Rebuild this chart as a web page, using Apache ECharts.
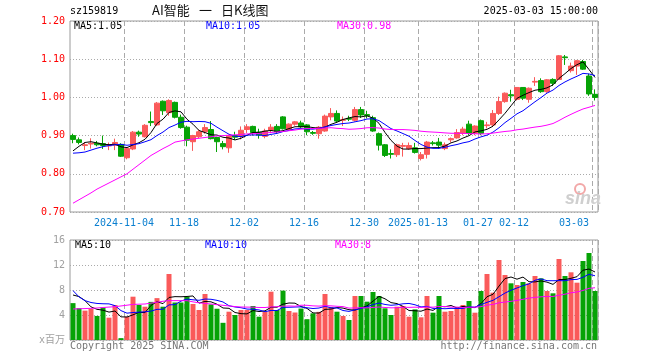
<!DOCTYPE html>
<html><head><meta charset="utf-8">
<script src="https://cdn.jsdelivr.net/npm/echarts@6/dist/echarts.min.js"></script>
<style>html,body{margin:0;padding:0;background:#fff}#c{width:660px;height:360px}</style>
</head><body><div id="c"></div>
<script>
const dates = ['2024-10-22','2024-10-23','2024-10-24','2024-10-25','2024-10-28','2024-10-29','2024-10-30','2024-10-31',
'2024-11-01','2024-11-04','2024-11-05','2024-11-06','2024-11-07','2024-11-08','2024-11-11','2024-11-12','2024-11-13','2024-11-14','2024-11-15','2024-11-18','2024-11-19','2024-11-20','2024-11-21','2024-11-22','2024-11-25','2024-11-26','2024-11-27','2024-11-28','2024-11-29',
'2024-12-02','2024-12-03','2024-12-04','2024-12-05','2024-12-06','2024-12-09','2024-12-10','2024-12-11','2024-12-12','2024-12-13','2024-12-16','2024-12-17','2024-12-18','2024-12-19','2024-12-20','2024-12-23','2024-12-24','2024-12-25','2024-12-26','2024-12-27','2024-12-30','2024-12-31',
'2025-01-02','2025-01-03','2025-01-06','2025-01-07','2025-01-08','2025-01-09','2025-01-10','2025-01-13','2025-01-14','2025-01-15','2025-01-16','2025-01-17','2025-01-20','2025-01-21','2025-01-22','2025-01-23','2025-01-24','2025-01-27',
'2025-02-05','2025-02-06','2025-02-07','2025-02-10','2025-02-11','2025-02-12','2025-02-13','2025-02-14','2025-02-17','2025-02-18','2025-02-19','2025-02-20','2025-02-21','2025-02-24','2025-02-25','2025-02-26','2025-02-27','2025-02-28',
'2025-03-03'];

const opens = [0.900,0.889,0.874,0.878,0.880,0.879,0.873,0.875,0.877,0.842,
0.865,0.909,0.897,0.937,0.928,0.990,0.960,0.987,0.948,0.922,
0.884,0.897,0.910,0.916,0.895,0.879,0.868,0.900,0.898,0.916,
0.924,0.909,0.898,0.914,0.924,0.949,0.916,0.930,0.933,0.928,
0.908,0.905,0.912,0.949,0.958,0.940,0.945,0.940,0.968,0.955,
0.947,0.905,0.876,0.853,0.850,0.872,0.866,0.868,0.840,0.851,
0.881,0.883,0.866,0.889,0.894,0.906,0.930,0.906,0.939,0.926,
0.928,0.958,0.989,1.007,0.995,1.026,0.995,1.040,1.044,1.015,
1.047,1.047,1.106,1.070,1.082,1.094,1.056,1.008];
const closes = [0.890,0.882,0.876,0.880,0.876,0.874,0.875,0.882,0.846,0.866,
0.909,0.904,0.927,0.934,0.985,0.965,0.992,0.948,0.921,0.888,
0.900,0.910,0.921,0.892,0.884,0.871,0.900,0.896,0.914,0.923,
0.908,0.902,0.912,0.922,0.910,0.918,0.930,0.936,0.923,0.910,
0.906,0.922,0.951,0.958,0.938,0.942,0.943,0.968,0.954,0.952,
0.912,0.875,0.848,0.851,0.876,0.874,0.874,0.856,0.850,0.883,
0.879,0.875,0.876,0.892,0.908,0.917,0.906,0.925,0.906,0.928,
0.958,0.989,1.011,1.004,1.026,0.998,1.024,1.042,1.015,1.046,
1.037,1.109,1.104,1.082,1.096,1.074,1.009,1.000];
const highs = [0.905,0.895,0.883,0.893,0.886,0.900,0.882,0.892,0.880,0.869,
0.912,0.913,0.930,0.963,0.988,0.992,0.995,0.989,0.955,0.926,
0.902,0.916,0.930,0.938,0.897,0.886,0.902,0.910,0.924,0.930,
0.926,0.918,0.918,0.930,0.930,0.951,0.932,0.938,0.939,0.930,
0.912,0.925,0.955,0.972,0.966,0.950,0.952,0.975,0.975,0.965,
0.952,0.908,0.878,0.864,0.879,0.881,0.882,0.881,0.857,0.886,
0.886,0.894,0.882,0.895,0.917,0.923,0.939,0.927,0.942,0.936,
0.967,1.002,1.013,1.020,1.027,1.027,1.026,1.053,1.050,1.048,
1.050,1.111,1.111,1.091,1.098,1.098,1.062,1.021];
const lows = [0.880,0.877,0.862,0.866,0.872,0.865,0.862,0.862,0.844,0.838,
0.862,0.897,0.895,0.925,0.925,0.954,0.952,0.945,0.918,0.872,
0.860,0.893,0.905,0.890,0.857,0.864,0.855,0.889,0.890,0.907,
0.900,0.892,0.893,0.906,0.906,0.916,0.913,0.926,0.920,0.901,
0.902,0.892,0.910,0.940,0.934,0.925,0.938,0.937,0.946,0.945,
0.910,0.861,0.844,0.840,0.844,0.845,0.863,0.853,0.835,0.840,
0.874,0.866,0.862,0.882,0.892,0.901,0.901,0.901,0.901,0.919,
0.923,0.954,0.986,0.989,0.992,0.993,0.986,1.030,1.012,1.012,
1.030,1.046,1.085,1.065,1.059,1.072,1.004,0.992];
// volume, millions
const volumes = [5.9,5.1,4.7,5.0,3.85,5.2,3.57,5.6,0.3,3.73,
6.93,5.6,5.33,6.1,6.7,5.33,10.56,6.0,6.0,6.93,
5.76,4.8,7.36,5.7,5.0,2.75,4.53,4.0,4.8,4.8,
5.44,3.73,4.53,7.73,4.8,7.9,4.64,4.4,5.03,3.33,
4.27,4.5,7.36,5.3,4.53,3.84,3.2,7.04,7.04,6.13,
7.68,7.04,5.07,4.0,5.33,5.44,3.73,4.9,3.63,7.04,
4.37,7.04,4.53,4.64,5.07,5.6,6.24,4.37,7.84,10.56,
7.57,12.8,10.4,9.07,8.8,9.28,9.07,10.24,9.87,7.84,
7.47,12.96,10.24,10.83,9.17,12.64,13.92,7.84];
// moving-average values before enough visible history exists
const ma5Head = [0.860,0.872,0.882,0.884];
const ma10Head = [0.854,0.855,0.857,0.862,0.867,0.871,0.874,0.876,0.877];
const ma30Head = [0.723,0.732,0.741,0.750,0.760,0.768,0.776,0.784,0.792,0.800,0.812,0.824,0.836,0.848,0.857,0.866,0.874,0.883,0.886,0.889,0.891,0.893,0.895,0.897,0.899,0.900,0.901,0.902,0.903];
const vma5Head = [7.2,6.95,6.3,5.3];
const vma10Head = [7.9,6.9,6.3,6.0,5.85,5.8,5.78,5.5,4.7];
const vma30Head = [4.96,5.0,5.03,5.07,5.12,5.2,5.27,5.33,5.45,5.57,5.7,5.73,5.76,5.9,6.05,6.2,6.3,6.3,6.3,6.3,6.1,5.95,5.85,5.76,5.65,5.55,5.45,5.35,5.28];

const tickDates = ['2024-11-04','2024-11-18','2024-12-02','2024-12-16','2024-12-30','2025-01-13','2025-01-27','2025-02-12','2025-03-03'];
const tickLabels = ['2024-11-04','11-18','12-02','12-16','12-30','2025-01-13','01-27','02-12','03-03'];
const priceTicks = [0.70,0.80,0.90,1.00,1.10,1.20];
const volTicks = [0,4,8,12,16];

function movingAvg(arr, n, head) {
  return arr.map((v, i) => {
    if (i < n - 1) return head[i];
    let s = 0; for (let j = i - n + 1; j <= i; j++) s += arr[j];
    return +(s / n).toFixed(4);
  });
}
const ma5 = movingAvg(closes, 5, ma5Head), ma10 = movingAvg(closes, 10, ma10Head), ma30 = movingAvg(closes, 30, ma30Head);
const vma5 = movingAvg(volumes, 5, vma5Head), vma10 = movingAvg(volumes, 10, vma10Head), vma30 = movingAvg(volumes, 30, vma30Head);

const UP = '#fa5a5a', DOWN = '#06a306';
const MONO = '"DejaVu Sans Mono", monospace';
const CJK = '"Noto Sans CJK SC", sans-serif';
const isTick = (i, v) => tickDates.indexOf(v) >= 0;
const dashLine = {show: true, interval: isTick, lineStyle: {color: '#aaa', type: [5, 3], width: 1}};
const dotLine = {show: true, lineStyle: {color: '#aaa', type: [1, 2], width: 1}};

const chart = echarts.init(document.getElementById('c'), null, {renderer: 'canvas'});
const lineS = (name, data, color, xi) => ({name, type: 'line', data, xAxisIndex: xi, yAxisIndex: xi, showSymbol: false, symbol: 'none',
  lineStyle: {color, width: 1}, itemStyle: {color}, z: 5, silent: true});

chart.setOption({
  animation: false,
  backgroundColor: '#fff',
  grid: [
    {left: 70, top: 21, width: 528, height: 191, show: true, borderColor: '#9a9a9a', borderWidth: 1},
    {left: 70, top: 240, width: 528, height: 100, show: true, borderColor: '#9a9a9a', borderWidth: 1}
  ],
  xAxis: [
    {type: 'category', gridIndex: 0, data: dates, boundaryGap: true,
     axisLine: {show: false}, axisTick: {show: false},
     axisLabel: {interval: isTick, formatter: v => tickLabels[tickDates.indexOf(v)], color: '#0a7fd0',
       fontFamily: MONO, fontSize: 10, margin: 6, padding: [0, 6, 0, 0], alignMaxLabel: 'right'},
     splitLine: dashLine},
    {type: 'category', gridIndex: 1, data: dates, boundaryGap: true,
     axisLine: {show: false}, axisTick: {show: false}, axisLabel: {show: false}, splitLine: dashLine}
  ],
  yAxis: [
    {type: 'value', gridIndex: 0, min: priceTicks[0], max: priceTicks[priceTicks.length - 1], interval: 0.1,
     axisLine: {show: false}, axisTick: {show: false},
     axisLabel: {formatter: v => v.toFixed(2), color: '#ff0000', fontFamily: MONO, fontSize: 10, margin: 5},
     splitLine: dotLine},
    {type: 'value', gridIndex: 1, min: volTicks[0], max: volTicks[volTicks.length - 1], interval: 4,
     axisLine: {show: false}, axisTick: {show: false},
     axisLabel: {formatter: v => v === 0 ? 'x百万' : String(v), color: '#a0a0a0', fontFamily: '"DejaVu Sans Mono","Noto Sans CJK SC",monospace', fontSize: 10, margin: 5},
     splitLine: dotLine}
  ],
  series: [
    {type: 'candlestick', xAxisIndex: 0, yAxisIndex: 0, barWidth: 5,
     data: dates.map((d, i) => [opens[i], closes[i], lows[i], highs[i]]),
     itemStyle: {color: UP, color0: DOWN, borderColor: UP, borderColor0: DOWN, borderWidth: 1}, silent: true},
    lineS('MA5', ma5, '#000000', 0),
    lineS('MA10', ma10, '#0000ff', 0),
    lineS('MA30', ma30, '#ff00ff', 0),
    {type: 'bar', xAxisIndex: 1, yAxisIndex: 1, barWidth: 5, silent: true,
     data: volumes.map((v, i) => ({value: v, itemStyle: {color: closes[i] >= opens[i] ? UP : DOWN}}))},
    lineS('VMA5', vma5, '#000000', 1),
    lineS('VMA10', vma10, '#0000ff', 1),
    lineS('VMA30', vma30, '#ff00ff', 1)
  ],
  graphic: [
    {type: 'text', left: 70, top: 6, style: {text: 'sz159819', font: '10px ' + MONO, fill: '#000'}},
    {type: 'text', left: 152, top: 4, style: {text: 'AI智能', font: '13px ' + CJK, fill: '#111'}},
    {type: 'text', left: 199, top: 4, style: {text: '一', font: '13px ' + CJK, fill: '#111'}},
    {type: 'text', left: 221, top: 4, style: {text: '日K线图', font: '13px ' + CJK, fill: '#111'}},
    {type: 'text', right: 62, top: 6, style: {text: '2025-03-03 15:00:00', font: '10px ' + MONO, fill: '#000'}},
    {type: 'text', left: 74, top: 21, style: {text: 'MA5:1.05', font: '10px ' + MONO, fill: '#000'}},
    {type: 'text', left: 206, top: 21, style: {text: 'MA10:1.05', font: '10px ' + MONO, fill: '#0000ff'}},
    {type: 'text', left: 337, top: 21, style: {text: 'MA30:0.98', font: '10px ' + MONO, fill: '#ff00ff'}},
    {type: 'text', left: 75, top: 240, style: {text: 'MA5:10', font: '10px ' + MONO, fill: '#000'}},
    {type: 'text', left: 205, top: 240, style: {text: 'MA10:10', font: '10px ' + MONO, fill: '#0000ff'}},
    {type: 'text', left: 335, top: 240, style: {text: 'MA30:8', font: '10px ' + MONO, fill: '#ff00ff'}},
    {type: 'text', left: 70, top: 341, style: {text: 'Copyright 2025 SINA.COM', font: '10px ' + MONO, fill: '#777'}},
    {type: 'text', right: 63, top: 341, style: {text: 'http://finance.sina.com.cn', font: '10px ' + MONO, fill: '#777'}},
    {type: 'circle', shape: {cx: 580, cy: 189, r: 5}, style: {fill: 'none', stroke: '#f2a8a8', lineWidth: 2}, z: 1},
    {type: 'text', left: 565, top: 190, style: {text: 'sina', font: 'italic bold 18px "Liberation Sans"', fill: '#cfcfcf'}, z: 1}
  ]
});
</script></body></html>
